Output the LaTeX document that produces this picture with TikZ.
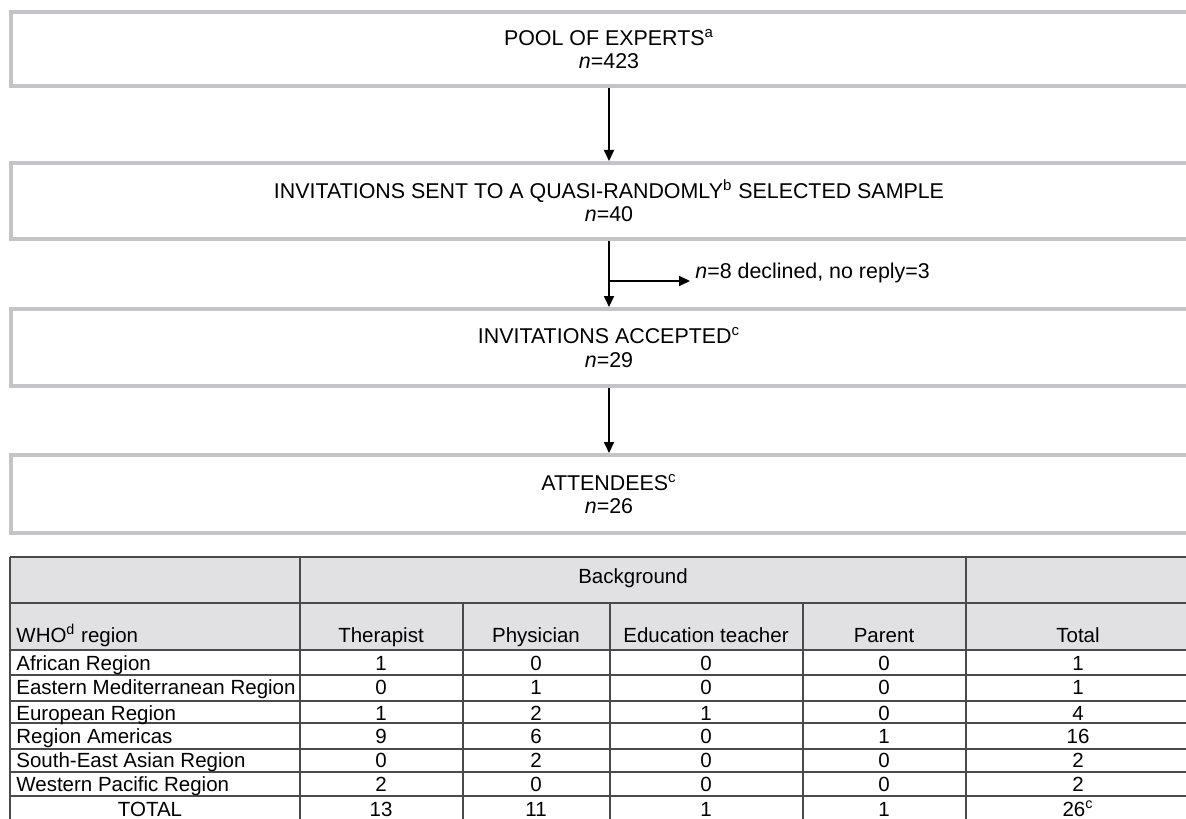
\documentclass[tikz,border=0pt]{standalone}
\usepackage{fontspec}
\setmainfont{Liberation Sans}
\usetikzlibrary{arrows.meta}
\definecolor{boxgray}{HTML}{C4C4C8}
\definecolor{hdrfill}{HTML}{E1E1E3}
\definecolor{rulegray}{HTML}{4A4A4A}
\begin{document}
\begin{tikzpicture}[x=0.5pt,y=-0.5pt,
  font=\fontsize{10.25}{11.6}\selectfont,
  flowbox/.style={draw=boxgray, line width=2pt, minimum width=598.5pt, align=center, inner sep=0pt, fill=white, font=\fontsize{10.7}{11.6}\selectfont},
  arr/.style={-{Triangle[width=5pt,length=5.5pt]}, line width=0.9pt, black},
  rulel/.style={draw=rulegray, line width=0.75pt},
  cell/.style={anchor=base, inner sep=0pt},
  lcell/.style={anchor=base west, inner sep=0pt}]
\useasboundingbox (0,0) rectangle (1186,818);
\clip (0,0) rectangle (1186,818);
\fill[white] (0,0) rectangle (1186,818);

% flow boxes
\node[flowbox, minimum height=37pt] (b1) at (609,49) {POOL OF EXPERTS\textsuperscript{a}\\\textit{n}=423};
\node[flowbox, minimum height=38pt] (b2) at (609,201) {INVITATIONS SENT TO A QUASI-RANDOMLY\textsuperscript{b} SELECTED SAMPLE\\\textit{n}=40};
\node[flowbox, minimum height=38.5pt] (b3) at (609,347.5) {INVITATIONS ACCEPTED\textsuperscript{c}\\\textit{n}=29};
\node[flowbox, minimum height=39pt] (b4) at (609,494) {ATTENDEES\textsuperscript{c}\\\textit{n}=26};

\draw[arr] (b1.south) -- (b2.north);
\draw[arr] (b2.south) -- (b3.north);
\draw[arr] (b3.south) -- (b4.north);

\coordinate (br) at (609,281);
\node[anchor=base west, inner ysep=0pt, inner xsep=2.5pt, font=\fontsize{10.7}{11.6}\selectfont] (decl) at (690,278) {\textit{n}=8 declined, no reply=3};
\draw[arr] (br) -- (br -| decl.west);

% table
\fill[hdrfill] (10,557) rectangle (1190,650);
\foreach \yy in {557,603,650,675,701,723,749,772,796}
  \draw[rulel] (10,\yy) -- (1190,\yy);
\foreach \xx in {10,300,966,1190}
  \draw[rulel] (\xx,557) -- (\xx,830);
\foreach \xx in {463,610,803}
  \draw[rulel] (\xx,603) -- (\xx,830);

\node[cell] (hbg) at (633,583) {Background};
\node[lcell] (hwho) at (16,642) {WHO\textsuperscript{d} region};
\node[cell] (hther) at (381,642) {Therapist};
\node[cell] (hphys) at (536,642) {Physician};
\node[cell] (hedu) at (706,642) {Education teacher};
\node[cell] (hpar) at (884,642) {Parent};
\node[cell] (htot) at (1078,642) {Total};

\foreach \nm/\yy/\lab/\a/\b/\c/\d/\e in {
  r1/670/African Region/1/0/0/0/1,
  r2/694/Eastern Mediterranean Region/0/1/0/0/1,
  r3/720/European Region/1/2/1/0/4,
  r4/743/Region Americas/9/6/0/1/16,
  r5/767/South-East Asian Region/0/2/0/0/2,
  r6/791/Western Pacific Region/2/0/0/0/2}{
  \node[lcell] (\nm l) at (16,\yy) {\lab};
  \node[cell] (\nm a) at (381,\yy) {\a};
  \node[cell] (\nm b) at (536,\yy) {\b};
  \node[cell] (\nm c) at (706,\yy) {\c};
  \node[cell] (\nm d) at (884,\yy) {\d};
  \node[cell] (\nm e) at (1078,\yy) {\e};
}
\node[cell] (tl) at (150,816) {TOTAL};
\node[cell] (ta) at (381,816) {13};
\node[cell] (tb) at (536,816) {11};
\node[cell] (tc) at (706,816) {1};
\node[cell] (td) at (884,816) {1};
\node[cell] (te) at (1078,816) {26\textsuperscript{c}};
\end{tikzpicture}
\end{document}
